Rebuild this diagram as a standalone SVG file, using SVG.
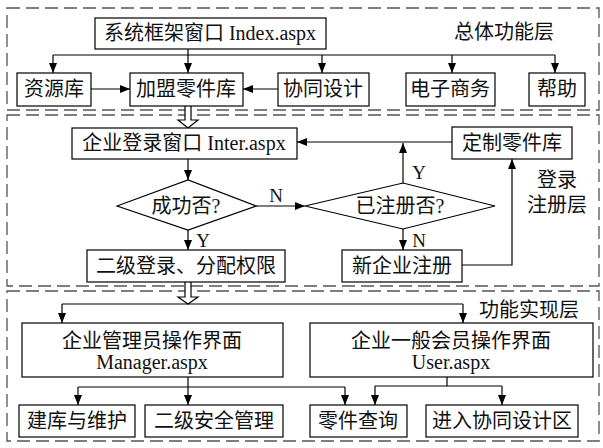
<svg xmlns="http://www.w3.org/2000/svg" width="603" height="448" viewBox="0 0 603 448">
<defs>
<marker id="ah" viewBox="0 0 10 8" refX="10" refY="4" markerWidth="10" markerHeight="8" markerUnits="userSpaceOnUse" orient="auto">
<path d="M0,0 L10,4 L0,8 Z" fill="#000"/>
</marker>
<style>
.layer{fill:none;stroke:#555;stroke-width:1.3;stroke-dasharray:13 6}
.box{fill:#fff;stroke:#000;stroke-width:1.2}
.ln{fill:none;stroke:#000;stroke-width:1.2}
.arr{fill:none;stroke:#000;stroke-width:1.2;marker-end:url(#ah)}
.hollow{fill:#fff;stroke:#000;stroke-width:1.2}
text{font-family:"Liberation Serif","Noto Sans CJK SC",serif;font-size:20px;fill:#111;text-anchor:middle;dominant-baseline:central}
.lbl{font-size:19px}
</style>
</defs>
<rect width="603" height="448" fill="#fff"/>

<g id="layers">
<rect class="layer" x="7" y="8" width="592" height="102"/>
<rect class="layer" x="7" y="115" width="592" height="171"/>
<rect class="layer" x="7" y="291" width="592" height="150"/>
<text x="504" y="32">总体功能层</text>
<text x="557" y="180">登录</text>
<text x="557" y="205">注册层</text>
<text x="529" y="310">功能实现层</text>
</g>

<g id="connectors">
<!-- layer 1 -->
<path class="ln" d="M188,49 V55 M53,55 H555"/>
<path class="arr" d="M53,55 V73"/>
<path class="arr" d="M188,55 V73"/>
<path class="arr" d="M322,55 V73"/>
<path class="arr" d="M452,55 V73"/>
<path class="arr" d="M555,55 V73"/>
<path class="arr" d="M91,89 H130"/>
<path class="arr" d="M278,89 H243"/>
<!-- hollow arrow 1 -->
<path class="hollow" d="M185,106 V120 H178 L188,128 L198,120 H191 V106"/>
<!-- layer 2 -->
<path class="arr" d="M188,159 V180"/>
<path class="arr" d="M256,206 H305"/>
<path class="arr" d="M403,183 V143"/>
<path class="arr" d="M452,142 H297"/>
<path class="arr" d="M403,229 V250"/>
<path class="arr" d="M188,230 V250"/>
<path class="arr" d="M462,265 H512 V159"/>
<text class="lbl" x="276" y="195">N</text>
<text class="lbl" x="419" y="172">Y</text>
<text class="lbl" x="419" y="240">N</text>
<text class="lbl" x="203" y="240">Y</text>
<!-- hollow arrow 2 -->
<path class="hollow" d="M185,282 V297 H178 L188,304 L198,297 H191 V282"/>
<!-- layer 3 -->
<path class="ln" d="M62,304 H463"/>
<path class="arr" d="M62,304 V323"/>
<path class="arr" d="M463,304 V323"/>
<path class="arr" d="M188,377 V405"/>
<path class="ln" d="M78,387 H345"/>
<path class="arr" d="M78,387 V405"/>
<path class="arr" d="M345,387 V405"/>
<path class="ln" d="M447,377 V386 M375,386 H502"/>
<path class="arr" d="M375,386 V405"/>
<path class="arr" d="M502,386 V405"/>
</g>

<g id="n-index"><rect class="box" x="95" y="18" width="231" height="31"/><text x="210" y="33">系统框架窗口 Index.aspx</text></g>
<g id="n-ziyuan"><rect class="box" x="17" y="73" width="74" height="33"/><text x="54" y="89">资源库</text></g>
<g id="n-jiameng"><rect class="box" x="130" y="73" width="113" height="33"/><text x="186" y="89">加盟零件库</text></g>
<g id="n-xietong"><rect class="box" x="278" y="73" width="91" height="33"/><text x="323" y="89">协同设计</text></g>
<g id="n-dianzi"><rect class="box" x="406" y="73" width="89" height="33"/><text x="450" y="89">电子商务</text></g>
<g id="n-bangzhu"><rect class="box" x="529" y="73" width="56" height="33"/><text x="557" y="89">帮助</text></g>

<g id="n-inter"><rect class="box" x="72" y="128" width="225" height="31"/><text x="184" y="143">企业登录窗口 Inter.aspx</text></g>
<g id="n-dingzhi"><rect class="box" x="452" y="127" width="120" height="32"/><text x="512" y="143">定制零件库</text></g>
<g id="n-chenggong"><polygon class="box" points="117,206 188,180 256,206 188,230"/><text x="186" y="206">成功否?</text></g>
<g id="n-yizhuce"><polygon class="box" points="305,206 403,183 495,206 403,229"/><text x="400" y="206">已注册否?</text></g>
<g id="n-xinqiye"><rect class="box" x="342" y="250" width="120" height="32"/><text x="402" y="266">新企业注册</text></g>
<g id="n-erji"><rect class="box" x="87" y="250" width="198" height="32"/><text x="186" y="266">二级登录、分配权限</text></g>

<g id="n-manager"><rect class="box" x="22" y="323" width="261" height="54"/><text x="152" y="341">企业管理员操作界面</text><text x="152" y="362">Manager.aspx</text></g>
<g id="n-user"><rect class="box" x="310" y="323" width="283" height="54"/><text x="451" y="341">企业一般会员操作界面</text><text x="451" y="362">User.aspx</text></g>

<g id="n-jianku"><rect class="box" x="19" y="405" width="116" height="32"/><text x="77" y="421">建库与维护</text></g>
<g id="n-anquan"><rect class="box" x="145" y="405" width="138" height="32"/><text x="214" y="421">二级安全管理</text></g>
<g id="n-chaxun"><rect class="box" x="310" y="405" width="97" height="32"/><text x="358" y="421">零件查询</text></g>
<g id="n-jinru"><rect class="box" x="426" y="405" width="152" height="32"/><text x="502" y="421">进入协同设计区</text></g>
</svg>
